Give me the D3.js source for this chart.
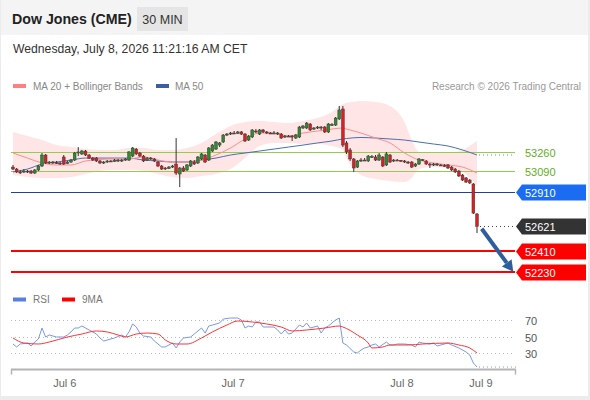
<!DOCTYPE html>
<html><head><meta charset="utf-8">
<script src="https://cdn.jsdelivr.net/npm/d3@7"></script>
<style>
html,body{margin:0;padding:0;background:#ececec;}
svg{display:block;font-family:"Liberation Sans",Arial,sans-serif;}
</style></head><body>
<svg id="c" width="590" height="400"></svg>
<script>
// ---- data ----
const title = "Dow Jones (CME)";
const interval = "30 MIN";
const stamp = "Wednesday, July 8, 2026 11:21:16 AM CET";
// candles: [open, high, low, close], 30-min bars
const candles = [
[53127,53145,53102,53110],[53110,53119,53076,53085],[53085,53102,53068,53083],[53085,53110,53076,53093],
[53093,53102,53076,53085],[53093,53102,53068,53076],[53076,53110,53068,53102],[53102,53145,53093,53136],
[53136,53247,53127,53230],[53230,53239,53153,53162],[53162,53179,53153,53170],[53170,53179,53153,53165],
[53165,53179,53153,53162],[53162,53170,53145,53158],[53213,53230,53145,53153],[53158,53179,53153,53170],
[53170,53196,53162,53187],[53187,53256,53179,53247],[53247,53298,53221,53256],[53239,53273,53230,53264],
[53264,53273,53221,53230],[53230,53239,53196,53204],[53204,53213,53179,53187],[53204,53213,53170,53179],
[53179,53187,53153,53162],[53162,53179,53153,53170],[53170,53187,53162,53179],[53179,53187,53170,53175],
[53175,53196,53170,53187],[53187,53196,53170,53179],[53179,53196,53170,53187],[53187,53204,53179,53196],
[53187,53264,53179,53256],[53221,53298,53213,53290],[53281,53290,53230,53239],[53247,53256,53213,53221],
[53221,53230,53170,53179],[53187,53213,53179,53204],[53204,53213,53187,53196],[53196,53204,53170,53179],
[53170,53179,53127,53136],[53136,53145,53102,53110],[53119,53127,53102,53114],[53114,53136,53110,53127],
[53127,53145,53119,53136],[53153,53375,53059,53076],[53068,53127,52956,53119],[53119,53136,53085,53093],
[53102,53153,53093,53145],[53136,53187,53127,53179],[53170,53187,53145,53153],[53162,53221,53153,53213],
[53196,53247,53187,53239],[53230,53239,53162,53170],[53187,53298,53179,53290],[53264,53324,53256,53315],
[53281,53350,53273,53341],[53315,53341,53298,53333],[53341,53409,53333,53401],[53401,53418,53392,53409],
[53409,53427,53401,53418],[53418,53435,53409,53414],[53414,53435,53409,53427],[53427,53435,53401,53409],
[53409,53418,53341,53350],[53358,53401,53350,53392],[53384,53452,53375,53444],[53435,53452,53418,53430],
[53409,53452,53401,53444],[53444,53452,53418,53427],[53427,53435,53409,53418],[53418,53427,53409,53414],
[53414,53435,53409,53418],[53418,53427,53401,53409],[53409,53418,53367,53375],[53384,53401,53375,53392],
[53392,53401,53384,53388],[53392,53401,53350,53384],[53375,53409,53367,53401],[53384,53478,53375,53469],
[53461,53486,53452,53478],[53461,53512,53452,53503],[53495,53503,53435,53444],[53452,53469,53444,53461],
[53461,53478,53452,53469],[53469,53478,53444,53461],[53469,53478,53418,53427],[53427,53503,53418,53495],
[53486,53503,53478,53490],[53486,53555,53478,53546],[53538,53649,53529,53615],[53623,53649,53298,53315],
[53333,53350,53239,53256],[53273,53290,53179,53196],[53196,53204,53085,53119],[53127,53187,53119,53179],
[53179,53204,53170,53187],[53187,53204,53179,53183],[53179,53230,53170,53221],[53213,53230,53204,53217],
[53213,53230,53179,53187],[53187,53247,53179,53230],[53213,53221,53127,53136],[53145,53256,53136,53239],
[53230,53239,53162,53170],[53179,53196,53170,53187],[53187,53196,53179,53185],[53185,53187,53170,53179],
[53179,53187,53162,53170],[53170,53179,53153,53162],[53170,53179,53119,53127],[53136,53162,53127,53153],
[53153,53204,53145,53196],[53187,53196,53179,53190],[53179,53187,53145,53153],[53153,53162,53119,53145],
[53145,53162,53136,53153],[53153,53162,53136,53145],[53145,53153,53136,53141],[53141,53153,53127,53136],
[53145,53153,53110,53119],[53127,53136,53093,53102],[53110,53119,53076,53085],[53093,53102,53042,53051],
[53059,53068,53008,53016],[53034,53042,52991,52999],[53016,53025,52982,52991],[52982,52991,52726,52734],
[52726,52734,52563,52621]
];
// indicator samples (bar index -> value)
const lineIdx = [0,4,8,12,16,20,24,28,32,36,40,44,48,52,56,60,64,68,72,76,80,84,88,91,92,96,100,104,108,110,112,116,120,124,128];
const ma20 = [53247,53204,53162,53145,53145,53179,53192,53196,53196,53213,53187,53170,53170,53187,53230,53290,53367,53418,53418,53392,53418,53435,53452,53461,53452,53418,53375,53333,53247,53213,53187,53162,53145,53127,53076];
const ma50 = [53085,53110,53153,53170,53187,53204,53204,53204,53204,53187,53179,53170,53170,53187,53204,53230,53247,53264,53281,53298,53315,53333,53350,53367,53371,53380,53375,53367,53358,53350,53341,53324,53307,53273,53230];
const bbUpper = [53427,53392,53358,53315,53298,53281,53273,53273,53290,53290,53273,53273,53290,53333,53409,53478,53512,53521,53512,53503,53521,53546,53598,53666,53674,53692,53683,53649,53512,53358,53256,53247,53247,53273,53350];
const bbLower = [53059,53042,53034,53034,53042,53068,53093,53102,53102,53093,53068,53042,53034,53051,53068,53110,53204,53307,53333,53333,53324,53324,53307,53273,53204,53059,53025,53008,52999,53034,53110,53127,53119,53085,52965];
const rsiIdx = [0,1,2,4,5,6,7,8,9,10,12,14,15,16,17,18,19,21,23,24,25,27,28,30,31,32,33,34,35,36,38,39,41,42,44,45,46,47,49,50,52,53,54,55,57,58,60,62,63,64,65,66,67,68,69,72,73,74,75,76,77,79,80,81,82,83,84,85,86,87,88,89,90,91,92,94,95,96,97,98,99,100,101,103,104,105,106,108,110,111,112,113,115,116,117,119,120,121,123,125,126,127,128];
const rsiVal = [40.9,37.3,40.9,42.1,38.5,43.3,47.0,60.3,49.4,51.8,49.4,49.4,51.8,55.5,60.3,60.3,62.7,57.9,53.0,48.2,44.5,47.0,48.2,51.8,49.4,55.5,65.2,61.5,54.2,50.6,49.4,44.5,37.3,37.3,42.1,36.1,43.3,48.2,49.4,53.0,60.3,54.2,62.7,63.9,66.4,71.2,72.4,72.4,70.0,60.3,62.7,61.5,67.6,67.6,61.5,61.5,57.9,53.0,57.9,53.0,54.2,63.9,61.5,66.4,60.3,61.5,62.7,54.2,60.3,62.7,66.4,70.0,72.4,42.1,39.7,31.2,30.0,33.6,36.1,37.3,39.7,40.9,37.3,43.3,39.7,39.7,40.9,40.9,39.7,37.3,43.3,42.1,40.9,42.1,38.5,40.9,42.1,39.7,36.1,31.2,27.6,17.9,13.0];
const rsiMaIdx = [0,3,7,10,15,19,23,26,29,31,34,37,40,42,45,48,52,55,59,62,66,70,74,77,81,86,90,91,95,98,99,102,104,109,113,120,123,126,128];
const rsiMaVal = [48.2,42.1,40.9,43.3,49.4,53.0,56.7,55.5,51.8,49.4,53.0,54.2,53.0,45.8,40.9,40.9,48.2,55.5,63.9,68.8,67.6,65.2,61.5,56.7,57.9,60.3,62.7,61.5,51.8,42.1,36.1,37.3,39.7,39.7,40.9,42.1,39.7,36.1,30.0];
// price levels
const levels = [53260,53090,52910,52621,52410,52230];
const levelKinds = ["res","res","pivot","last","sup","sup"];
const rsiTicks = [70,50,30];
const xTickPos = [14.3,60.7,107.3,129.1];
const xTickLabels = ["Jul 6","Jul 7","Jul 8","Jul 9"];
const arrowFrom = [129.3,52600];
const arrowTo = [138,52232];

// ---- drawing ----
const svg = d3.select("#c");
const left = 11, right = 515;
const crisp = v => Math.round(v) + 0.5;
svg.append("rect").attr("x",1).attr("y",0).attr("width",587).attr("height",396).attr("fill","#fff");
svg.append("rect").attr("x",1).attr("y",0).attr("width",587).attr("height",35).attr("fill","#f4f4f4");
svg.append("rect").attr("x",137).attr("y",7).attr("width",51).attr("height",24).attr("fill","#e5e5e5");
svg.append("text").attr("x",12).attr("y",24).attr("font-size",14.2).attr("font-weight","bold").attr("fill","#222").text(title);
svg.append("text").attr("x",162.5).attr("y",24).attr("text-anchor","middle").attr("font-size",12.5).attr("fill","#333").text(interval);
svg.append("text").attr("x",13).attr("y",53).attr("font-size",12.2).attr("fill","#333").text(stamp);

// legend
svg.append("rect").attr("x",13).attr("y",84).attr("width",13).attr("height",4).attr("fill","#ff8080");
svg.append("text").attr("x",33).attr("y",90).attr("font-size",10).attr("fill","#888").text("MA 20 + Bollinger Bands");
svg.append("rect").attr("x",156).attr("y",84).attr("width",13).attr("height",4).attr("fill","#3a5fa5");
svg.append("text").attr("x",175).attr("y",90).attr("font-size",10).attr("fill","#888").text("MA 50");
svg.append("text").attr("x",581).attr("y",90).attr("text-anchor","end").attr("font-size",10).attr("fill","#999").text("Research \u00a9 2026 Trading Central");

const x = d3.scaleLinear().domain([0,128]).range([13,477]);
const y = d3.scaleLinear().domain([52230,53260]).range([272,151.5]);
const yr = d3.scaleLinear().domain([30,70]).range([353,320]);

// Bollinger band
const bb = lineIdx.map((d,i)=>({i:d,u:bbUpper[i],l:bbLower[i]}));
svg.append("path").datum(bb)
  .attr("d", d3.area().x(d=>x(d.i)).y0(d=>y(d.l)).y1(d=>y(d.u)).curve(d3.curveMonotoneX))
  .attr("fill","#ffdcdc").attr("opacity",0.75);

// levels
levels.forEach((v,k)=>{
  const kind = levelKinds[k], yy = crisp(y(v));
  if(kind==="res"){
    svg.append("line").attr("x1",left).attr("x2",right).attr("y1",yy).attr("y2",yy).attr("stroke","#93cc55").attr("stroke-width",1);
    svg.append("text").attr("x",525).attr("y",yy+4).attr("font-size",11).attr("fill","#5fae22").text(v);
  } else {
    let col = kind==="pivot" ? "#1b6cf2" : kind==="last" ? "#333" : "#ff0000";
    if(kind==="pivot") svg.append("line").attr("x1",left).attr("x2",right).attr("y1",yy).attr("y2",yy).attr("stroke","#23409a").attr("stroke-width",1);
    if(kind==="sup") svg.append("line").attr("x1",left).attr("x2",right).attr("y1",yy-0.5).attr("y2",yy-0.5).attr("stroke","#ff0000").attr("stroke-width",2);
    if(kind==="last") svg.append("line").attr("x1",x(128)+3).attr("x2",right).attr("y1",yy).attr("y2",yy).attr("stroke","#444").attr("stroke-dasharray","1,3");
    svg.append("path").attr("d",`M516,${yy} L522,${yy-8} L586,${yy-8} L586,${yy+8} L522,${yy+8} Z`).attr("fill",col);
    svg.append("text").attr("x",525).attr("y",yy+4).attr("font-size",11).attr("fill","#fff").text(v);
  }
});

// MA lines
const lineGen = d3.line().x(d=>x(d[0])).y(d=>y(d[1])).curve(d3.curveMonotoneX);
svg.append("path").datum(lineIdx.map((d,i)=>[d,ma50[i]])).attr("d",lineGen).attr("fill","none").attr("stroke","#4a6fb2").attr("stroke-width",1);
svg.append("path").datum(lineIdx.map((d,i)=>[d,ma20[i]])).attr("d",lineGen).attr("fill","none").attr("stroke","#ff8c8c").attr("stroke-width",1);
svg.append("line").attr("x1",x(128)+2).attr("x2",right).attr("y1",y(ma50[ma50.length-1])).attr("y2",y(ma50[ma50.length-1]))
  .attr("stroke","#6b8fd0").attr("stroke-dasharray","1,3");

// candles
const cg = svg.append("g");
candles.forEach((c,i)=>{
  const [o,h,l,cl] = c, cx = x(i);
  cg.append("line").attr("x1",cx).attr("x2",cx).attr("y1",y(h)).attr("y2",y(l)).attr("stroke","#333").attr("stroke-width",1);
  const top = y(Math.max(o,cl)), bot = y(Math.min(o,cl));
  cg.append("rect").attr("x",cx-1.4).attr("width",2.8).attr("y",top).attr("height",Math.max(1,bot-top))
    .attr("fill", cl>=o ? "#2e8b2e" : "#dd1f1f").attr("stroke","#3a3a3a").attr("stroke-width",0.5);
});

// arrow
const ax1 = x(arrowFrom[0]), ay1 = y(arrowFrom[1]), ax2 = x(arrowTo[0]), ay2 = y(arrowTo[1]);
const ang = Math.atan2(ay2-ay1, ax2-ax1), hl = 11, hw = 6;
const bx = ax2 - hl*Math.cos(ang), by = ay2 - hl*Math.sin(ang);
svg.append("line").attr("x1",ax1).attr("y1",ay1).attr("x2",bx).attr("y2",by).attr("stroke","#2f5e9e").attr("stroke-width",4);
svg.append("path").attr("d",`M${ax2},${ay2} L${bx+hw*Math.sin(ang)},${by-hw*Math.cos(ang)} L${bx-hw*Math.sin(ang)},${by+hw*Math.cos(ang)} Z`).attr("fill","#2f5e9e");

// RSI panel
svg.append("rect").attr("x",13).attr("y",297.5).attr("width",13).attr("height",4).attr("fill","#5b7fe0");
svg.append("text").attr("x",33).attr("y",303).attr("font-size",10).attr("fill","#777").text("RSI");
svg.append("rect").attr("x",62).attr("y",297.5).attr("width",13).attr("height",4).attr("fill","#ff0000");
svg.append("text").attr("x",82).attr("y",303).attr("font-size",10).attr("fill","#777").text("9MA");
rsiTicks.forEach(t=>{
  const ty = crisp(yr(t));
  svg.append("line").attr("x1",left).attr("x2",right).attr("y1",ty).attr("y2",ty).attr("stroke","#bbb").attr("stroke-dasharray","1,3");
  svg.append("text").attr("x",525).attr("y",ty+4).attr("font-size",11).attr("fill","#555").text(t);
});
const rl = d3.line().x(d=>x(d[0])).y(d=>yr(d[1]));
svg.append("path").datum(rsiIdx.map((d,i)=>[d,rsiVal[i]])).attr("d",rl).attr("fill","none").attr("stroke","#7b98ea").attr("stroke-width",1);
svg.append("path").datum(rsiMaIdx.map((d,i)=>[d,rsiMaVal[i]])).attr("d",rl.curve(d3.curveMonotoneX)).attr("fill","none").attr("stroke","#ff3333").attr("stroke-width",1);
svg.append("line").attr("x1",x(128)+2).attr("x2",517).attr("y1",yr(rsiVal[rsiVal.length-1])).attr("y2",yr(rsiVal[rsiVal.length-1]))
  .attr("stroke","#7b98ea").attr("stroke-dasharray","1,3");

// x axis
const axY = 369.5;
svg.append("line").attr("x1",left).attr("x2",right+1).attr("y1",axY).attr("y2",axY).attr("stroke","#b3b3b3").attr("stroke-width",2);
[left+0.5,right+0.5].forEach(px=>svg.append("line").attr("x1",px).attr("x2",px).attr("y1",axY).attr("y2",axY+5).attr("stroke","#b3b3b3").attr("stroke-width",1.5));
xTickPos.forEach((p,k)=>{
  svg.append("text").attr("x",x(p)).attr("y",387).attr("text-anchor","middle").attr("font-size",11).attr("fill","#666").text(xTickLabels[k]);
});
</script>
</body></html>
